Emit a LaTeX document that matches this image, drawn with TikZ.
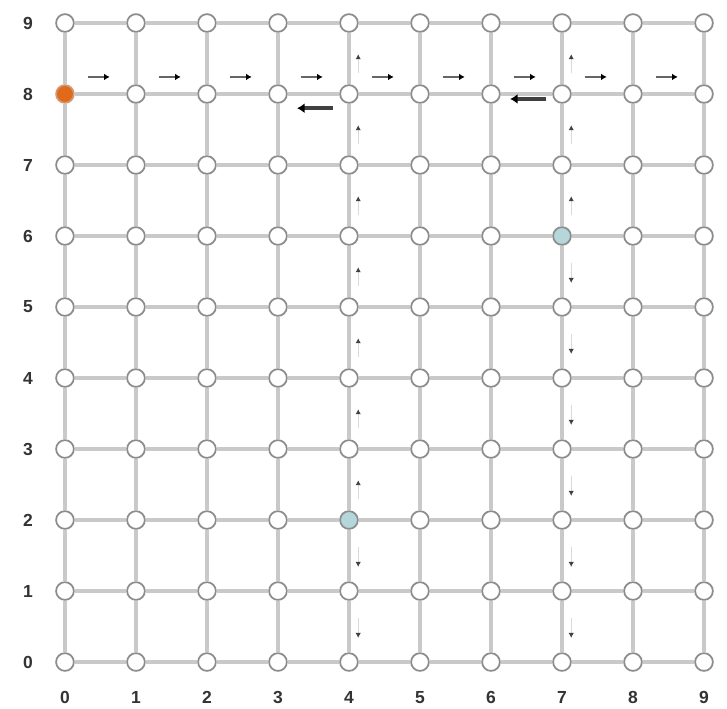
\documentclass[tikz,border=0pt]{standalone}
\usepackage{fontspec}
\setsansfont{Liberation Sans}
\usetikzlibrary{arrows.meta}

\definecolor{startc}{HTML}{E0691C}
\definecolor{goalc}{HTML}{B5D7DC}

\begin{document}
\begin{tikzpicture}[
  vtx/.style={circle,draw=black!45,line width=0.7pt,fill=white,minimum size=0.25cm,inner sep=0pt},
  vtx 0-8/.style={fill=startc,draw=startc!80!black!60},
  vtx 4-2/.style={fill=goalc},
  vtx 7-6/.style={fill=goalc},
  edge/.style={black!21,line width=1.8pt},
  lbl/.style={font=\sffamily\bfseries\fontsize{7}{8}\selectfont,text=black!80},
  flow/.style={black!60,line width=0.45pt,-{Latex[length=2.2pt,width=2.6pt,black]}},
  vflow/.style={black!15,line width=0.5pt,-{Latex[length=2pt,width=2.2pt,black!75]}},
  back/.style={black!75,line width=1.4pt,-{Latex[length=3pt,width=4pt,black]}}
]
\useasboundingbox (-0.915,-0.648) rectangle (9.324,9.324);

% grid vertices
\foreach \x in {0,...,9}{
  \foreach \y in {0,...,9}{
    \node[vtx,vtx \x-\y/.try] (n-\x-\y) at (\x,\y) {};
  }
}

% grid edges
\foreach \a [evaluate=\a as \b using int(\a+1)] in {0,...,8}{
  \foreach \c in {0,...,9}{
    \draw[edge] (n-\a-\c) -- (n-\b-\c);
    \draw[edge] (n-\c-\a) -- (n-\c-\b);
  }
}

% axis labels
\foreach \i in {0,...,9}{
  \node[lbl] (xl-\i) at (\i,-0.5) {\i};
  \node[lbl] (yl-\i) at (-0.52,\i) {\i};
}

% moves along row 8
\foreach \x in {0,...,8}{
  \draw[flow] ([shift={(0.32,0.24)}]n-\x-8.center) -- ([shift={(0.63,0.24)}]n-\x-8.center);
}
\draw[back] ([shift={(0.78,-0.2)}]n-3-8.center) -- ([shift={(0.27,-0.2)}]n-3-8.center);
\draw[back] ([shift={(0.78,-0.07)}]n-6-8.center) -- ([shift={(0.27,-0.07)}]n-6-8.center);

% moves along columns 4 and 7
\foreach \y in {2,...,8}{
  \draw[vflow] ([shift={(0.13,0.3)}]n-4-\y.center) -- ([shift={(0.13,0.56)}]n-4-\y.center);
}
\foreach \y in {0,1}{
  \draw[vflow] ([shift={(0.13,0.62)}]n-4-\y.center) -- ([shift={(0.13,0.34)}]n-4-\y.center);
}
\foreach \y in {6,7,8}{
  \draw[vflow] ([shift={(0.13,0.3)}]n-7-\y.center) -- ([shift={(0.13,0.56)}]n-7-\y.center);
}
\foreach \y in {0,...,5}{
  \draw[vflow] ([shift={(0.13,0.62)}]n-7-\y.center) -- ([shift={(0.13,0.34)}]n-7-\y.center);
}
\end{tikzpicture}
\end{document}
